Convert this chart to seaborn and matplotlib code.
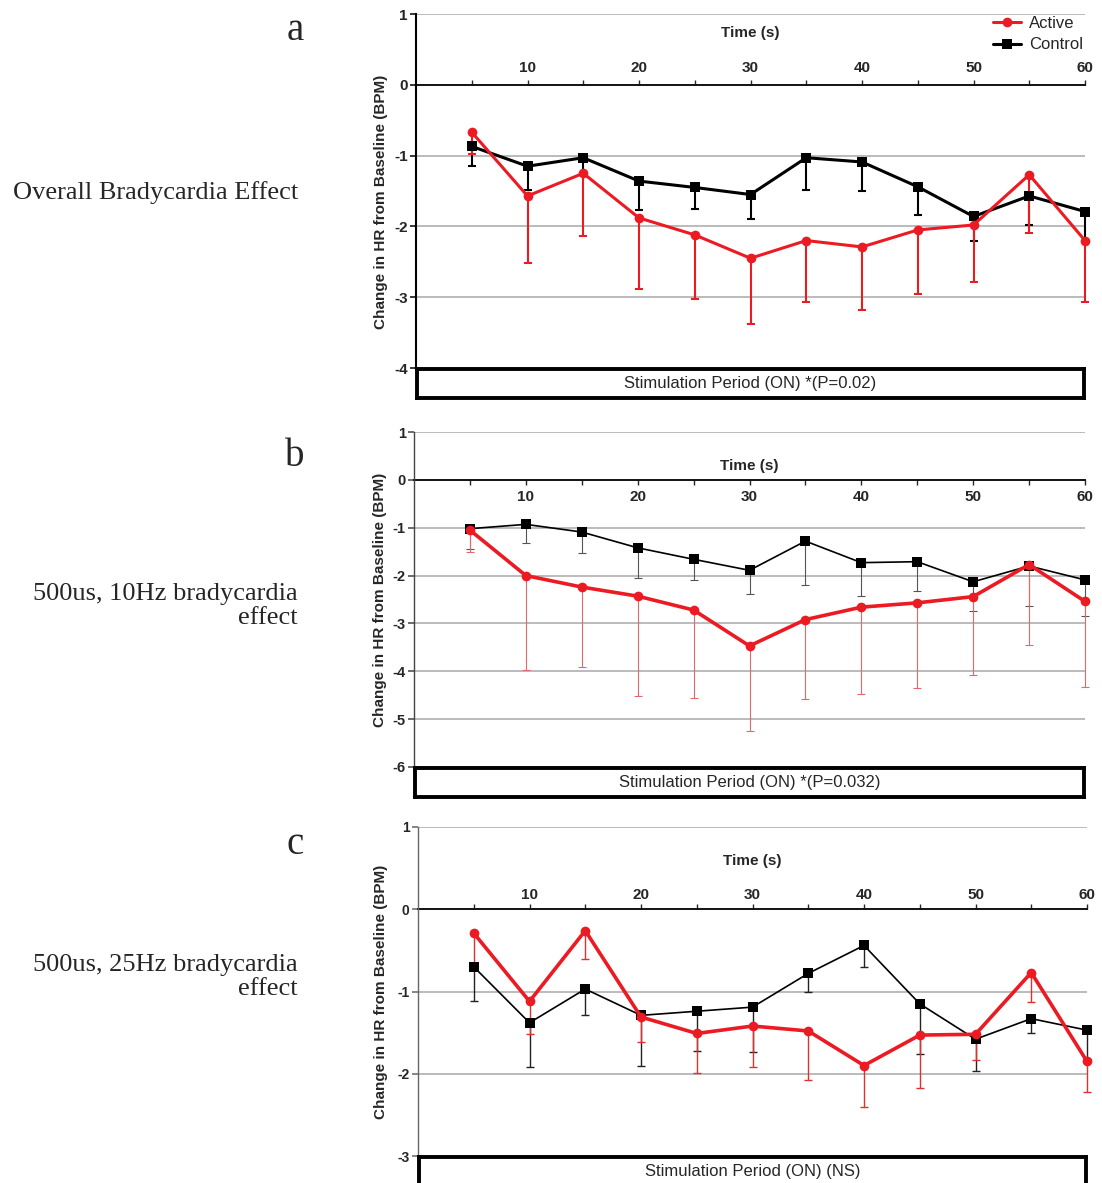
import numpy as np
import pandas as pd
import matplotlib
matplotlib.use("Agg")
import matplotlib.pyplot as plt
import seaborn as sns

sns.set_style("white")
plt.rcParams['font.family'] = ['Liberation Sans', 'DejaVu Sans']

W, H = 1102, 1183

time_s = [5, 10, 15, 20, 25, 30, 35, 40, 45, 50, 55, 60]
x_ticks = [5, 10, 15, 20, 25, 30, 35, 40, 45, 50, 55, 60]
x_ticklabels = ['', '10', '', '20', '', '30', '', '40', '', '50', '', '60']

# panel a: overall
a_active = [-0.67, -1.57, -1.25, -1.88, -2.12, -2.45, -2.20, -2.29, -2.05, -1.98, -1.27, -2.20]
a_active_low = [-0.98, -2.52, -2.13, -2.89, -3.03, -3.38, -3.07, -3.18, -2.95, -2.78, -2.09, -3.07]
a_control = [-0.87, -1.15, -1.03, -1.36, -1.45, -1.55, -1.03, -1.09, -1.44, -1.86, -1.57, -1.79]
a_control_low = [-1.14, -1.48, -1.25, -1.77, -1.76, -1.90, -1.48, -1.50, -1.84, -2.20, -1.98, -2.20]

# panel b: 500us, 10Hz
b_active = [-1.05, -2.00, -2.24, -2.43, -2.72, -3.47, -2.92, -2.66, -2.57, -2.44, -1.77, -2.54]
b_active_low = [-1.50, -3.97, -3.92, -4.51, -4.56, -5.25, -4.58, -4.48, -4.34, -4.08, -3.45, -4.33]
b_control = [-1.02, -0.93, -1.09, -1.42, -1.66, -1.89, -1.28, -1.73, -1.71, -2.13, -1.80, -2.09]
b_control_low = [-1.44, -1.32, -1.52, -2.05, -2.09, -2.39, -2.20, -2.43, -2.32, -2.75, -2.64, -2.85]

# panel c: 500us, 25Hz
c_active = [-0.29, -1.12, -0.26, -1.31, -1.51, -1.42, -1.48, -1.90, -1.53, -1.52, -0.77, -1.85]
c_active_low = [-0.70, -1.52, -0.61, -1.61, -1.99, -1.92, -2.08, -2.41, -2.17, -1.83, -1.13, -2.22]
c_control = [-0.70, -1.38, -0.97, -1.29, -1.24, -1.19, -0.78, -0.44, -1.15, -1.58, -1.33, -1.47]
c_control_low = [-1.12, -1.92, -1.28, -1.90, -1.72, -1.73, -1.01, -0.70, -1.76, -1.97, -1.51, -1.82]

RED = '#ec1a22'


def px_rect(l, t, r, b):
    return [l / W, 1 - b / H, (r - l) / W, (b - t) / H]


def draw_panel(ax, active, active_low, control, control_low, ylim,
               lw_act, lw_ctl, err_act, err_ctl, elw, tick_dir,
               label_pad, time_offset, spine_lw, spine_col, ytick_size,
               ylabel_x, ylabel_y=0.5, legend=False):
    t = np.array(time_s)
    act = np.array(active)
    ctl = np.array(control)
    zeros = np.zeros_like(act)

    # one-sided (downward) error bars
    ax.errorbar(t, ctl, yerr=[ctl - np.array(control_low), zeros], fmt='none',
                ecolor=err_ctl, elinewidth=elw, capsize=3, capthick=elw,
                zorder=2, clip_on=False)
    ax.errorbar(t, act, yerr=[act - np.array(active_low), zeros], fmt='none',
                ecolor=err_act, elinewidth=elw, capsize=3, capthick=elw,
                zorder=2, clip_on=False)

    df_c = pd.DataFrame({'time': t, 'change': ctl})
    df_a = pd.DataFrame({'time': t, 'change': act})
    sns.lineplot(data=df_c, x='time', y='change', color='black', marker='s',
                 markersize=6.5, markeredgewidth=0, linewidth=lw_ctl,
                 label='Control', ax=ax, zorder=3, clip_on=False)
    sns.lineplot(data=df_a, x='time', y='change', color=RED, marker='o',
                 markersize=7, markeredgewidth=0, linewidth=lw_act,
                 label='Active', ax=ax, zorder=4, clip_on=False)

    ax.set_xlim(0, 60)
    ax.set_ylim(*ylim)
    yt = list(range(ylim[0], ylim[1] + 1))
    ax.set_yticks(yt)
    ax.set_yticklabels([str(v) for v in yt])
    for v in yt:
        if v != 0:
            ax.axhline(v, color='#a8a8a8', lw=1.1, zorder=1)

    ax.spines['top'].set_visible(False)
    ax.spines['right'].set_visible(False)
    ax.spines['bottom'].set_position(('data', 0))
    ax.spines['bottom'].set_linewidth(1.4)
    ax.spines['bottom'].set_color('#111111')
    ax.spines['left'].set_linewidth(spine_lw)
    ax.spines['left'].set_color(spine_col)
    ax.spines['bottom'].set_zorder(1.5)

    ax.set_xticks(x_ticks)
    ax.set_xticklabels(x_ticklabels)
    ax.tick_params(axis='x', direction=tick_dir, length=3.5, width=1,
                   bottom=True, labelsize=11, pad=label_pad)
    ax.tick_params(axis='y', direction='out', length=4, width=1.1,
                   left=True, labelsize=ytick_size, pad=2, color=spine_col)
    for lab in ax.get_xticklabels() + ax.get_yticklabels():
        lab.set_fontweight('bold')

    ax.set_xlabel('')
    ax.set_ylabel('Change in HR from Baseline (BPM)', fontsize=11,
                  fontweight='bold')
    ax.yaxis.set_label_coords(ylabel_x, ylabel_y)
    ax.annotate('Time (s)', xy=(30, 0), xytext=(0, time_offset),
                textcoords='offset points', ha='center', va='center',
                fontsize=11, fontweight='bold')

    if legend:
        h, l = ax.get_legend_handles_labels()
        ax.legend(h[::-1], l[::-1], loc='upper right', frameon=False,
                  fontsize=12, handlelength=1.7, handletextpad=0.5,
                  borderaxespad=0.0, borderpad=0.1, labelspacing=0.4,
                  bbox_to_anchor=(1.0, 1.0))
    else:
        ax.get_legend().remove()


def draw_box(rect, text):
    bx = fig.add_axes(rect)
    bx.set_xticks([])
    bx.set_yticks([])
    for s in bx.spines.values():
        s.set_linewidth(2.8)
        s.set_color('black')
        s.set_visible(True)
    bx.text(0.5, 0.5, text, ha='center', va='center', fontsize=12,
            transform=bx.transAxes)


fig = plt.figure(figsize=(W / 100, H / 100), dpi=100)

ax_a = fig.add_axes(px_rect(416, 14, 1085, 368))
draw_panel(ax_a, a_active, a_active_low, a_control, a_control_low, (-4, 1),
           lw_act=2.2, lw_ctl=2.2, err_act=RED, err_ctl='black', elw=1.5,
           tick_dir='in', label_pad=-17, time_offset=37, spine_lw=1.5,
           spine_col='black', ytick_size=11,
           ylabel_x=(388 - 416) / 669, ylabel_y=0.47, legend=True)
draw_box(px_rect(417, 369, 1084, 398), 'Stimulation Period (ON) *(P=0.02)')

ax_b = fig.add_axes(px_rect(414, 432, 1085, 767))
draw_panel(ax_b, b_active, b_active_low, b_control, b_control_low, (-6, 1),
           lw_act=2.6, lw_ctl=1.2, err_act='#e06a6a', err_ctl='#555555', elw=0.8,
           tick_dir='out', label_pad=4, time_offset=10, spine_lw=1.0,
           spine_col='#444444', ytick_size=10.5,
           ylabel_x=(387 - 414) / 671)
draw_box(px_rect(415, 768, 1084, 797), 'Stimulation Period (ON) *(P=0.032)')

ax_c = fig.add_axes(px_rect(418, 827, 1087, 1156))
draw_panel(ax_c, c_active, c_active_low, c_control, c_control_low, (-3, 1),
           lw_act=2.6, lw_ctl=1.2, err_act='#e03030', err_ctl='#222222', elw=1.0,
           tick_dir='in', label_pad=-15, time_offset=35, spine_lw=1.0,
           spine_col='#666666', ytick_size=10,
           ylabel_x=(388 - 418) / 669)
draw_box(px_rect(419, 1157, 1086, 1186), 'Stimulation Period (ON) (NS)')

serif = ['Liberation Serif', 'DejaVu Serif']
side = dict(ha='right', va='center', fontsize=19, family=serif)
letter = dict(ha='center', va='center', fontsize=28, family=serif)
fig.text(295 / W, 1 - 30 / H, 'a', **letter)
fig.text(298 / W, 1 - 193 / H, 'Overall Bradycardia Effect', **side)
fig.text(295 / W, 1 - 456 / H, 'b', **letter)
fig.text(298 / W, 1 - 606 / H, '500us, 10Hz bradycardia\neffect',
         multialignment='right', linespacing=1.15, **side)
fig.text(295 / W, 1 - 845 / H, 'c', **letter)
fig.text(298 / W, 1 - 977 / H, '500us, 25Hz bradycardia\neffect',
         multialignment='right', linespacing=1.15, **side)

fig.savefig('out.png', dpi=100)
